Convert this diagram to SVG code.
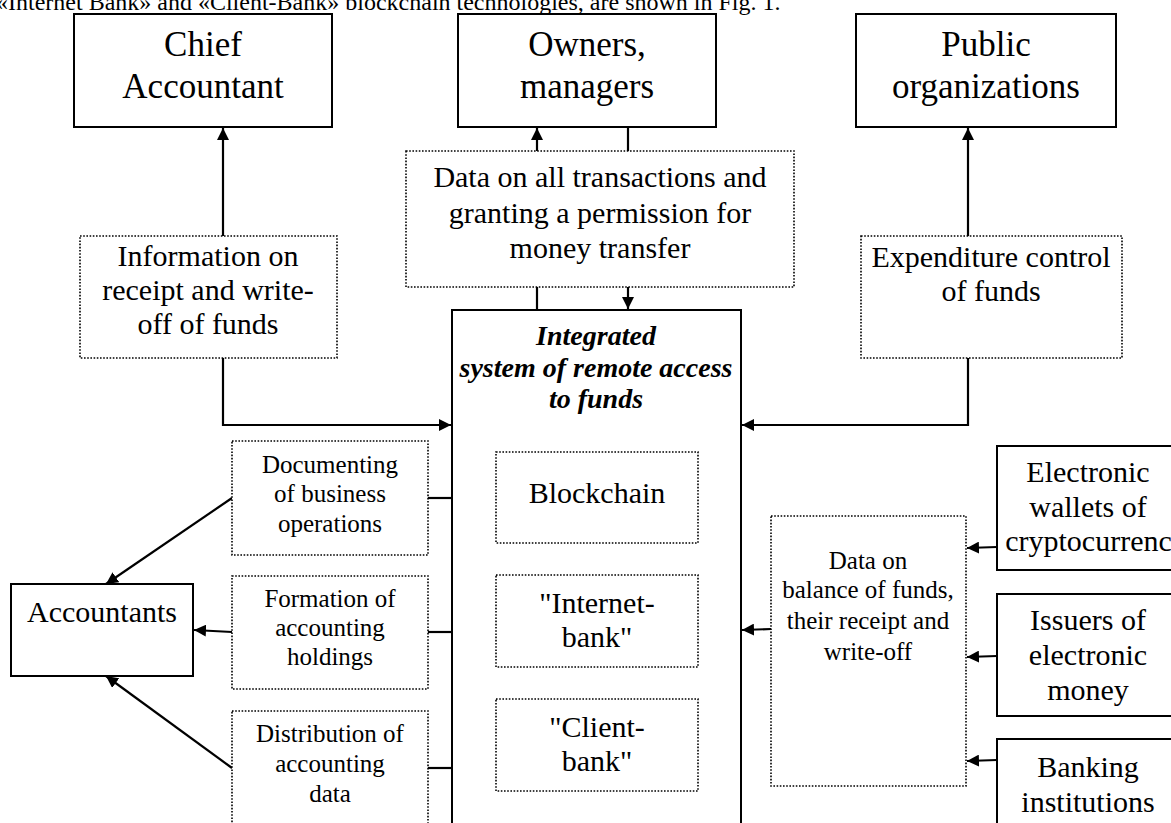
<svg xmlns="http://www.w3.org/2000/svg" width="1171" height="823" viewBox="0 0 1171 823">
<style>
text{font-family:"Liberation Serif","Times New Roman",serif;fill:#000;text-anchor:middle}
.solid{fill:#fff;stroke:#000;stroke-width:2}
.dot{fill:#fff;stroke:#000;stroke-width:1.6;stroke-dasharray:1.6 1.6}
.conn{fill:none;stroke:#000;stroke-width:2.2}
.big{font-size:35px}
.med{font-size:30px}
.sm{font-size:25px}
.title{font-size:28px;font-weight:bold;font-style:italic}
</style>
<defs>
<marker id="arr" markerUnits="userSpaceOnUse" markerWidth="13" markerHeight="12" refX="12" refY="6" orient="auto">
<path d="M0,0 L12,6 L0,12 z" fill="#000"/>
</marker>
</defs>
<rect width="1171" height="823" fill="#fff"/>
<text x="-4" y="10" style="font-size:24px;text-anchor:start">«Internet Bank» and «Client-Bank» blockchain technologies, are shown in Fig. 1.</text>

<g id="connectors">
<line class="conn" x1="223" y1="236" x2="223" y2="128" marker-end="url(#arr)"/>
<line class="conn" x1="537" y1="151" x2="537" y2="128" marker-end="url(#arr)"/>
<line class="conn" x1="628" y1="127" x2="628" y2="151"/>
<line class="conn" x1="537" y1="287" x2="537" y2="310"/>
<line class="conn" x1="628" y1="287" x2="628" y2="309" marker-end="url(#arr)"/>
<line class="conn" x1="968" y1="236" x2="968" y2="128" marker-end="url(#arr)"/>
<path class="conn" d="M223 358 V425 H451" marker-end="url(#arr)"/>
<path class="conn" d="M968 358 V425 H742" marker-end="url(#arr)"/>
<line class="conn" x1="428" y1="498" x2="452" y2="498"/>
<line class="conn" x1="428" y1="632" x2="452" y2="632"/>
<line class="conn" x1="428" y1="768" x2="452" y2="768"/>
<line class="conn" x1="232" y1="498" x2="106" y2="584" marker-end="url(#arr)"/>
<line class="conn" x1="232" y1="632" x2="194" y2="630" marker-end="url(#arr)"/>
<line class="conn" x1="232" y1="768" x2="106" y2="676" marker-end="url(#arr)"/>
<line class="conn" x1="771" y1="629" x2="742" y2="630" marker-end="url(#arr)"/>
<line class="conn" x1="997" y1="547" x2="967" y2="548" marker-end="url(#arr)"/>
<line class="conn" x1="997" y1="656" x2="967" y2="657" marker-end="url(#arr)"/>
<line class="conn" x1="997" y1="760" x2="967" y2="761" marker-end="url(#arr)"/>
</g>

<g id="chief">
<rect class="solid" x="74" y="14" width="258" height="113"/>
<text class="big" x="203" y="56">Chief</text>
<text class="big" x="203" y="98">Accountant</text>
</g>
<g id="owners">
<rect class="solid" x="458" y="14" width="258" height="113"/>
<text class="big" x="587" y="56">Owners,</text>
<text class="big" x="587" y="98">managers</text>
</g>
<g id="public">
<rect class="solid" x="856" y="14" width="260" height="113"/>
<text class="big" x="986" y="56">Public</text>
<text class="big" x="986" y="98">organizations</text>
</g>
<g id="data-transactions">
<rect class="dot" x="406" y="151" width="388" height="136"/>
<text class="med" x="600" y="187">Data on all transactions and</text>
<text class="med" x="600" y="223">granting a permission for</text>
<text class="med" x="600" y="258">money transfer</text>
</g>
<g id="info-receipt">
<rect class="dot" x="80" y="236" width="257" height="122"/>
<text class="med" x="208" y="266">Information on</text>
<text class="med" x="208" y="300">receipt and write-</text>
<text class="med" x="208" y="334">off of funds</text>
</g>
<g id="expenditure">
<rect class="dot" x="861" y="236" width="261" height="122"/>
<text class="med" x="991" y="267">Expenditure control</text>
<text class="med" x="991" y="301">of funds</text>
</g>
<g id="integrated-system">
<rect class="solid" x="452" y="310" width="289" height="530"/>
<text class="title" x="596" y="345">Integrated</text>
<text class="title" x="596" y="377">system of remote access</text>
<text class="title" x="596" y="408">to funds</text>
</g>
<g id="blockchain">
<rect class="dot" x="496" y="452" width="202" height="91"/>
<text class="med" x="597" y="503">Blockchain</text>
</g>
<g id="internet-bank">
<rect class="dot" x="496" y="575" width="202" height="92"/>
<text class="med" x="597" y="613">"Internet-</text>
<text class="med" x="597" y="647">bank"</text>
</g>
<g id="client-bank">
<rect class="dot" x="496" y="699" width="202" height="92"/>
<text class="med" x="597" y="737">"Client-</text>
<text class="med" x="597" y="771">bank"</text>
</g>
<g id="documenting">
<rect class="dot" x="232" y="441" width="196" height="114"/>
<text class="sm" x="330" y="473">Documenting</text>
<text class="sm" x="330" y="502">of business</text>
<text class="sm" x="330" y="532">operations</text>
</g>
<g id="formation">
<rect class="dot" x="232" y="576" width="196" height="113"/>
<text class="sm" x="330" y="607">Formation of</text>
<text class="sm" x="330" y="636">accounting</text>
<text class="sm" x="330" y="665">holdings</text>
</g>
<g id="distribution">
<rect class="dot" x="232" y="711" width="196" height="130"/>
<text class="sm" x="330" y="742">Distribution of</text>
<text class="sm" x="330" y="772">accounting</text>
<text class="sm" x="330" y="802">data</text>
</g>
<g id="accountants">
<rect class="solid" x="11" y="584" width="182" height="92"/>
<text class="med" x="102" y="622">Accountants</text>
</g>
<g id="data-balance">
<rect class="dot" x="771" y="516" width="195" height="270"/>
<text class="sm" x="868" y="569">Data on</text>
<text class="sm" x="868" y="598">balance of funds,</text>
<text class="sm" x="868" y="629">their receipt and</text>
<text class="sm" x="868" y="660">write-off</text>
</g>
<g id="wallets">
<rect class="solid" x="997" y="446" width="185" height="124"/>
<text class="med" x="1088" y="482">Electronic</text>
<text class="med" x="1088" y="517">wallets of</text>
<text class="med" x="1096" y="551">cryptocurrency</text>
</g>
<g id="issuers">
<rect class="solid" x="997" y="594" width="185" height="122"/>
<text class="med" x="1088" y="630">Issuers of</text>
<text class="med" x="1088" y="665">electronic</text>
<text class="med" x="1088" y="700">money</text>
</g>
<g id="banking">
<rect class="solid" x="997" y="739" width="185" height="100"/>
<text class="med" x="1088" y="777">Banking</text>
<text class="med" x="1088" y="812">institutions</text>
</g>
</svg>
